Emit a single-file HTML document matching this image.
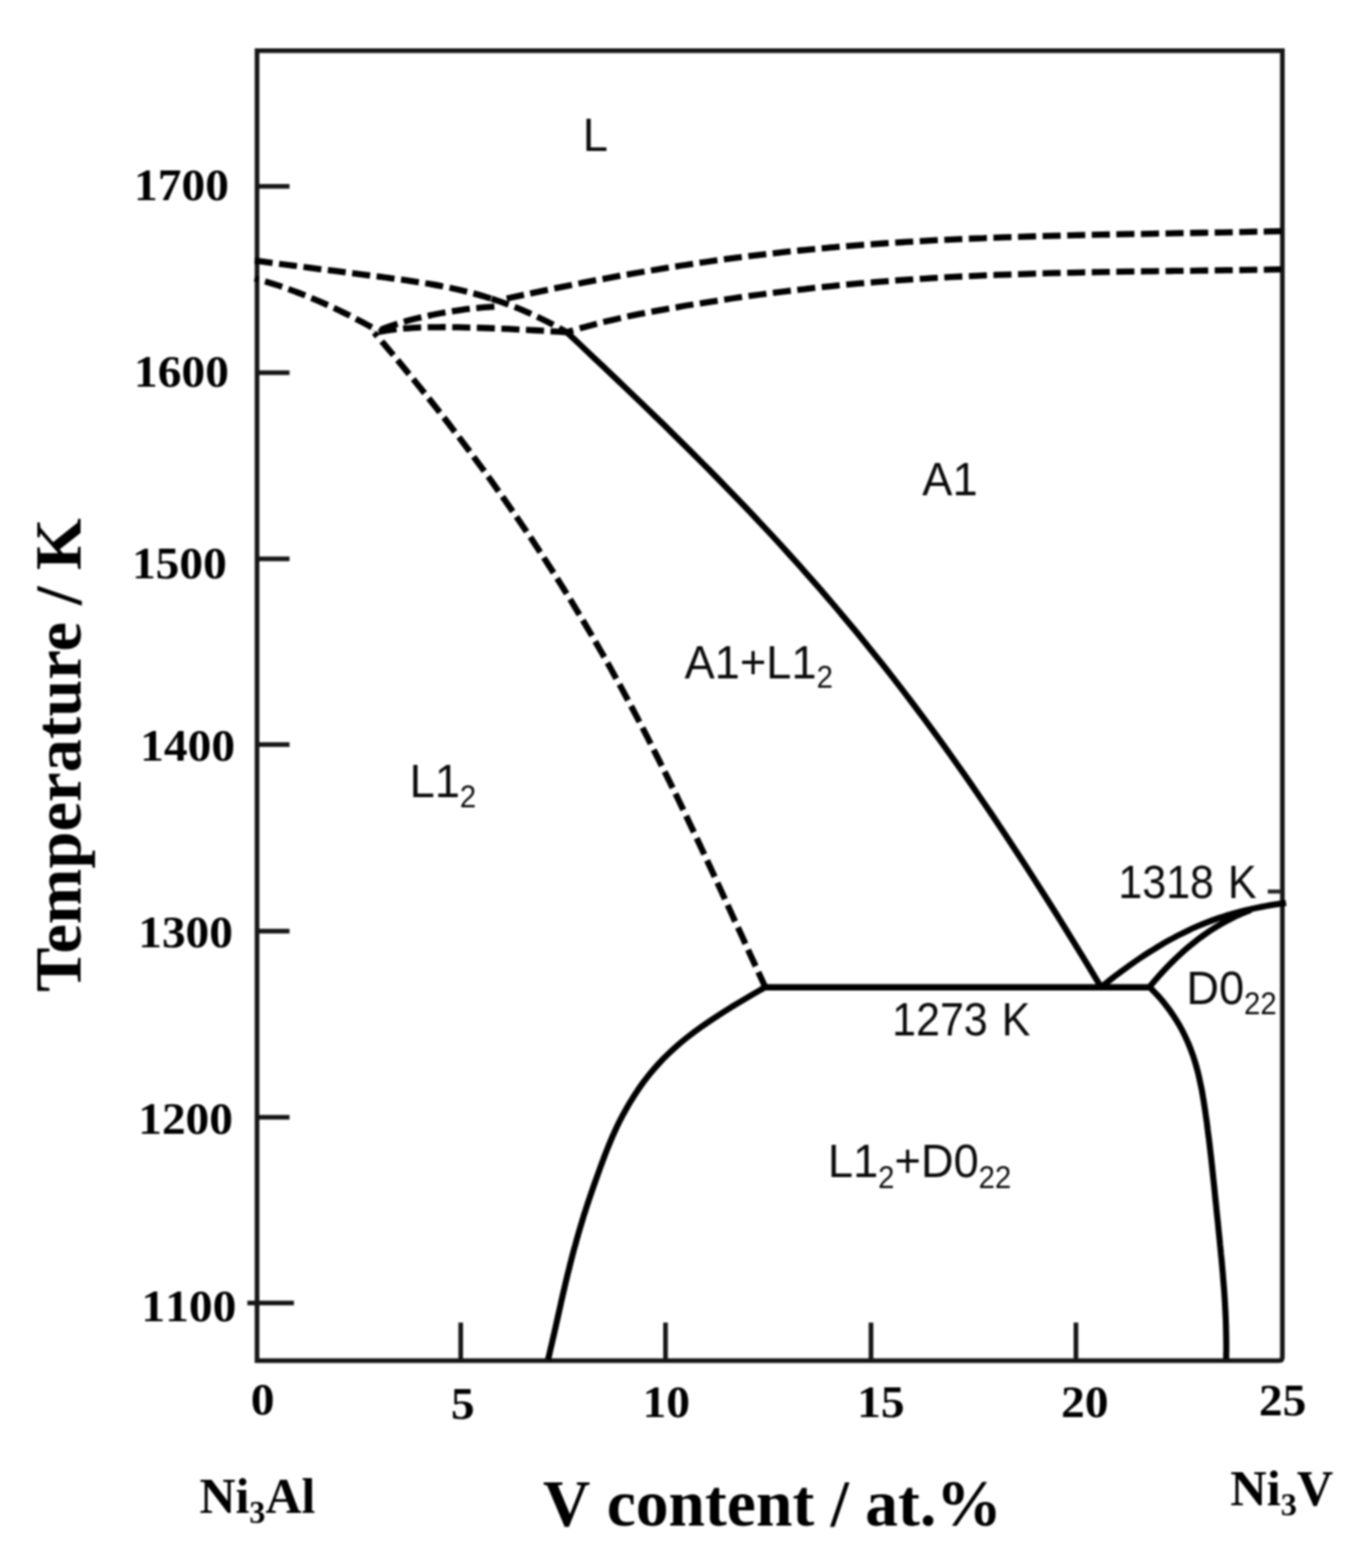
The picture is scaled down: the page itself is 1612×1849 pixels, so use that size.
<!DOCTYPE html>
<html lang="en">
<head>
<meta charset="utf-8">
<title>Ni3Al-Ni3V pseudo-binary phase diagram</title>
<style>
html,body{margin:0;padding:0;background:#fff;}
body{width:1612px;height:1849px;overflow:hidden;}
svg{display:block;filter:blur(1.1px);}
</style>
</head>
<body>
<svg width="1612" height="1849" viewBox="0 0 1612 1849">
<rect width="1612" height="1849" fill="#fff"/>
<g fill="none" stroke="#161616" stroke-width="5.5">
<path d="M303.1,59.8 L1512.2,59.8 L1512.2,1600.5 Q1512.2,1604.5 1508.2,1604.5 L303.1,1604.5 Z" stroke-linejoin="miter"/>
<path d="M301.0,219.7 L341.4,219.7"/>
<path d="M301.0,439.6 L341.4,439.6"/>
<path d="M301.0,658.9 L341.4,658.9"/>
<path d="M301.0,878.0 L341.4,878.0"/>
<path d="M301.0,1098.1 L341.4,1098.1"/>
<path d="M301.0,1317.4 L341.4,1317.4"/>
<path d="M291.7,1536.4 L346.6,1536.4"/>
<path d="M543.3,1559.6 L543.3,1604.5"/>
<path d="M784.8,1559.6 L784.8,1604.5"/>
<path d="M1027.1,1559.6 L1027.1,1604.5"/>
<path d="M1268.8,1559.6 L1268.8,1604.5"/>
</g>
<path d="M1495.0,1051.3 L1511,1051.3" stroke="#262626" stroke-width="4.8" fill="none"/>
<g fill="none" stroke="#000" stroke-width="7.3" stroke-dasharray="21.3 7.7">
<path d="M300.3,307.3C303.0,307.6 311.0,308.7 316.3,309.4C321.6,310.1 327.0,310.8 332.3,311.5C337.7,312.2 343.0,312.8 348.3,313.5C353.7,314.2 359.0,314.9 364.3,315.6C369.7,316.3 375.0,317.0 380.3,317.7C385.7,318.3 391.0,319.0 396.4,319.7C401.7,320.4 407.0,321.1 412.4,321.8C417.7,322.5 423.0,323.2 428.4,323.9C433.7,324.6 439.0,325.3 444.4,325.9C449.7,326.6 455.1,327.3 460.4,328.1C465.7,328.8 471.1,329.5 476.4,330.2C481.7,331.0 487.1,331.8 492.4,332.6C497.7,333.4 503.1,334.2 508.4,335.2C513.7,336.1 519.1,337.1 524.4,338.1C529.8,339.2 535.1,340.3 540.4,341.5C545.8,342.7 551.1,344.0 556.4,345.4C561.8,346.8 568.6,348.8 572.4,349.9C576.3,351.1 578.4,351.9 579.6,352.2" stroke-dashoffset="0.0"/>
<path d="M579.6,352.2C581.1,352.7 584.3,353.7 588.5,355.1C592.6,356.6 599.1,358.9 604.5,361.0C609.8,363.1 615.1,365.3 620.5,367.6C625.8,370.0 631.1,372.4 636.5,375.0C641.8,377.5 647.2,380.2 652.5,383.0C657.8,385.8 665.8,390.4 668.5,391.8" stroke-dashoffset="0.0"/>
<path d="M300.3,328.3C302.4,328.9 308.8,330.7 313.0,331.9C317.3,333.2 321.5,334.5 325.7,335.9C330.0,337.3 334.2,338.8 338.5,340.3C342.7,341.8 346.9,343.3 351.2,345.0C355.4,346.6 359.7,348.3 363.9,350.0C368.1,351.7 372.4,353.5 376.6,355.4C380.8,357.2 385.1,359.1 389.3,361.1C393.6,363.0 397.8,365.0 402.0,367.1C406.3,369.1 410.5,371.2 414.8,373.4C419.0,375.6 423.2,377.8 427.5,380.0C431.7,382.3 438.1,385.8 440.2,387.0" stroke-dashoffset="16.3"/>
<path d="M441.5,392.3C443.7,391.4 450.1,388.4 454.4,386.7C458.7,385.1 463.0,383.6 467.3,382.2C471.6,380.8 475.9,379.5 480.3,378.3C484.6,377.1 488.9,376.0 493.2,375.0C497.5,374.0 501.8,373.0 506.1,372.1C510.4,371.2 514.7,370.3 519.0,369.5C523.3,368.7 527.6,368.0 531.9,367.3C536.2,366.6 540.5,365.9 544.8,365.3C549.2,364.7 553.5,364.2 557.8,363.7C562.1,363.2 566.4,362.8 570.7,362.4C575.0,362.1 581.4,361.7 583.6,361.5" stroke-dashoffset="20.9"/>
<path d="M1511.0,272.6C1507.1,272.7 1495.4,273.0 1487.6,273.1C1479.8,273.3 1472.0,273.5 1464.2,273.6C1456.3,273.8 1448.5,273.9 1440.7,274.1C1432.9,274.2 1425.1,274.4 1417.3,274.5C1409.5,274.7 1401.7,274.8 1393.9,274.9C1386.1,275.1 1378.3,275.2 1370.5,275.4C1362.7,275.5 1354.8,275.6 1347.0,275.8C1339.2,275.9 1331.4,276.1 1323.6,276.2C1315.8,276.4 1308.0,276.5 1300.2,276.7C1292.4,276.9 1284.6,277.0 1276.8,277.2C1269.0,277.4 1261.2,277.6 1253.3,277.8C1245.5,278.0 1237.7,278.2 1229.9,278.4C1222.1,278.6 1214.3,278.9 1206.5,279.1C1198.7,279.4 1190.9,279.6 1183.1,279.9C1175.3,280.2 1167.5,280.5 1159.7,280.8C1151.8,281.1 1144.0,281.4 1136.2,281.8C1128.4,282.1 1120.6,282.5 1112.8,282.9C1105.0,283.2 1097.2,283.7 1089.4,284.1C1081.6,284.5 1073.8,285.0 1066.0,285.5C1058.2,285.9 1050.3,286.4 1042.5,287.0C1034.7,287.5 1026.9,288.1 1019.1,288.7C1011.3,289.3 1003.5,289.9 995.7,290.5C987.9,291.2 980.1,291.8 972.3,292.6C964.5,293.3 956.7,294.0 948.8,294.8C941.0,295.6 933.2,296.4 925.4,297.2C917.6,298.1 909.8,298.9 902.0,299.9C894.2,300.8 886.4,301.7 878.6,302.7C870.8,303.7 863.0,304.7 855.2,305.7C847.3,306.8 839.5,307.9 831.7,309.0C823.9,310.1 816.1,311.3 808.3,312.5C800.5,313.6 792.7,314.9 784.9,316.1C777.1,317.4 769.3,318.7 761.5,320.0C753.7,321.3 745.8,322.7 738.0,324.0C730.2,325.4 722.4,326.8 714.6,328.3C706.8,329.7 699.0,331.2 691.2,332.7C683.4,334.2 675.6,335.8 667.8,337.3C660.0,338.9 652.2,340.5 644.3,342.1C636.5,343.7 628.7,345.3 620.9,347.0C613.1,348.6 601.4,351.2 597.5,352.0" stroke-dashoffset="0.7"/>
<path d="M441.5,392.3C444.0,391.8 451.6,390.4 456.6,389.6C461.7,388.9 466.7,388.3 471.8,387.8C476.8,387.3 481.9,386.9 486.9,386.6C491.9,386.3 497.0,386.1 502.0,386.0C507.1,385.8 512.1,385.8 517.2,385.8C522.2,385.7 527.3,385.8 532.3,385.8C537.3,385.9 542.4,386.0 547.4,386.1C552.5,386.2 557.5,386.4 562.6,386.5C567.6,386.7 572.7,386.8 577.7,387.0C582.7,387.2 587.8,387.4 592.8,387.6C597.9,387.8 602.9,388.1 608.0,388.3C613.0,388.6 618.1,388.8 623.1,389.1C628.1,389.4 633.2,389.6 638.2,389.9C643.3,390.2 648.3,390.5 653.4,390.8C658.4,391.1 666.0,391.6 668.5,391.8" stroke-dashoffset="23.8"/>
<path d="M1511.0,317.7C1507.4,317.8 1496.6,317.9 1489.4,318.1C1482.2,318.2 1475.0,318.3 1467.8,318.4C1460.6,318.5 1453.4,318.6 1446.2,318.7C1439.0,318.8 1431.8,318.9 1424.6,319.0C1417.4,319.1 1410.2,319.2 1403.0,319.3C1395.8,319.3 1388.6,319.4 1381.4,319.5C1374.2,319.6 1367.0,319.7 1359.8,319.8C1352.6,319.9 1345.4,320.0 1338.2,320.1C1331.0,320.3 1323.8,320.4 1316.6,320.5C1309.4,320.6 1302.2,320.7 1295.0,320.9C1287.8,321.0 1280.6,321.2 1273.4,321.3C1266.2,321.5 1259.0,321.6 1251.8,321.8C1244.6,322.0 1237.4,322.2 1230.2,322.4C1223.0,322.6 1215.8,322.8 1208.6,323.1C1201.4,323.3 1194.2,323.5 1187.0,323.8C1179.8,324.1 1172.6,324.3 1165.4,324.6C1158.2,325.0 1151.0,325.3 1143.8,325.6C1136.6,325.9 1129.4,326.3 1122.2,326.7C1115.0,327.1 1107.8,327.5 1100.6,327.9C1093.4,328.3 1086.1,328.8 1078.9,329.2C1071.7,329.7 1064.5,330.2 1057.3,330.7C1050.1,331.3 1042.9,331.8 1035.7,332.4C1028.5,333.0 1021.3,333.6 1014.1,334.2C1006.9,334.9 999.7,335.5 992.5,336.2C985.3,336.9 978.1,337.7 970.9,338.4C963.7,339.2 956.5,340.0 949.3,340.8C942.1,341.6 934.9,342.5 927.7,343.3C920.5,344.2 913.3,345.1 906.1,346.1C898.9,347.0 891.7,348.0 884.5,348.9C877.3,349.9 870.1,351.0 862.9,352.0C855.7,353.1 848.5,354.2 841.3,355.3C834.1,356.4 826.9,357.5 819.7,358.7C812.5,359.8 805.3,361.0 798.1,362.3C790.9,363.5 783.7,364.7 776.5,366.1C769.3,367.4 762.1,368.7 754.9,370.2C747.7,371.6 740.5,373.1 733.3,374.7C726.1,376.3 718.9,377.9 711.7,379.7C704.5,381.5 697.3,383.4 690.1,385.4C682.9,387.4 672.1,390.7 668.5,391.8" stroke-dashoffset="0.7"/>
<path d="M441.4,392.3C444.2,395.6 452.7,405.5 458.3,412.1C463.9,418.7 469.4,425.3 474.8,431.9C480.3,438.5 485.7,445.1 491.1,451.7C496.4,458.3 501.7,464.9 506.9,471.4C512.2,478.0 517.4,484.6 522.5,491.2C527.7,497.8 532.7,504.4 537.8,511.0C542.8,517.6 547.8,524.2 552.7,530.8C557.6,537.4 562.5,544.0 567.4,550.6C572.2,557.2 577.0,563.8 581.7,570.4C586.4,577.0 591.1,583.6 595.7,590.2C600.3,596.8 604.9,603.4 609.4,610.0C614.0,616.6 618.4,623.2 622.9,629.7C627.3,636.3 631.7,642.9 636.0,649.5C640.3,656.1 644.6,662.7 648.8,669.3C653.1,675.9 657.2,682.5 661.4,689.1C665.5,695.7 669.6,702.3 673.7,708.9C677.7,715.5 681.7,722.1 685.6,728.7C689.6,735.3 693.5,741.9 697.4,748.5C701.2,755.1 705.0,761.7 708.8,768.3C712.6,774.9 716.3,781.4 720.0,788.0C723.6,794.6 727.3,801.2 730.9,807.8C734.5,814.4 738.0,821.0 741.6,827.6C745.1,834.2 748.6,840.8 752.0,847.4C755.5,854.0 758.9,860.6 762.3,867.2C765.7,873.8 769.0,880.4 772.3,887.0C775.7,893.6 779.0,900.2 782.2,906.8C785.5,913.4 788.7,920.0 792.0,926.6C795.2,933.1 798.4,939.7 801.6,946.3C804.7,952.9 807.9,959.5 811.0,966.1C814.2,972.7 817.3,979.3 820.4,985.9C823.5,992.5 826.6,999.1 829.7,1005.7C832.7,1012.3 835.8,1018.9 838.9,1025.5C841.9,1032.1 845.0,1038.7 848.0,1045.3C851.0,1051.9 854.1,1058.5 857.1,1065.1C860.1,1071.7 863.1,1078.3 866.1,1084.9C869.2,1091.4 872.2,1098.0 875.2,1104.6C878.2,1111.2 881.2,1117.8 884.2,1124.4C887.3,1131.0 890.3,1137.6 893.3,1144.2C896.4,1150.8 900.9,1160.7 902.4,1164.0" stroke-dashoffset="15.6"/>
</g>
<g fill="none" stroke="#000" stroke-width="7.2" stroke-linecap="butt" stroke-linejoin="round">
<path d="M901.2,1164.2 L1356.1,1164.2" stroke-width="7.4"/>
<path d="M668.5,391.8C671.2,394.3 679.3,401.9 684.7,407.0C690.0,412.1 695.4,417.2 700.8,422.3C706.2,427.4 711.6,432.5 717.0,437.6C722.3,442.7 727.7,447.9 733.1,453.0C738.5,458.1 743.9,463.3 749.3,468.5C754.6,473.6 760.0,478.8 765.4,484.0C770.8,489.2 776.2,494.5 781.6,499.7C786.9,505.0 792.3,510.3 797.7,515.6C803.1,520.9 808.5,526.2 813.9,531.6C819.2,536.9 824.6,542.3 830.0,547.7C835.4,553.2 840.8,558.6 846.2,564.1C851.5,569.6 856.9,575.1 862.3,580.7C867.7,586.2 873.1,591.8 878.5,597.5C883.9,603.1 889.2,608.8 894.6,614.6C900.0,620.3 905.4,626.1 910.8,631.9C916.2,637.7 921.5,643.6 926.9,649.5C932.3,655.4 937.7,661.4 943.1,667.4C948.5,673.5 953.8,679.6 959.2,685.7C964.6,691.8 970.0,698.0 975.4,704.3C980.8,710.6 986.1,716.9 991.5,723.3C996.9,729.7 1002.3,736.1 1007.7,742.6C1013.1,749.1 1018.4,755.7 1023.8,762.4C1029.2,769.0 1034.6,775.7 1040.0,782.5C1045.4,789.3 1050.7,796.2 1056.1,803.1C1061.5,810.0 1066.9,817.1 1072.3,824.2C1077.7,831.2 1083.0,838.4 1088.4,845.7C1093.8,852.9 1099.2,860.2 1104.6,867.6C1110.0,875.0 1115.4,882.5 1120.7,890.0C1126.1,897.6 1131.5,905.2 1136.9,912.9C1142.3,920.6 1147.7,928.4 1153.0,936.2C1158.4,944.0 1163.8,952.0 1169.2,959.9C1174.6,967.9 1180.0,976.0 1185.3,984.1C1190.7,992.2 1196.1,1000.4 1201.5,1008.7C1206.9,1016.9 1212.3,1025.3 1217.6,1033.6C1223.0,1042.0 1228.4,1050.5 1233.8,1059.0C1239.2,1067.5 1244.6,1076.1 1249.9,1084.7C1255.3,1093.4 1260.7,1102.1 1266.1,1110.8C1271.5,1119.6 1276.9,1128.4 1282.2,1137.2C1287.6,1146.1 1295.7,1159.5 1298.4,1164.0"/>
<path d="M902.2,1164.2C899.0,1166.1 889.1,1171.7 882.8,1175.5C876.4,1179.2 870.1,1183.0 864.0,1186.7C857.9,1190.5 851.9,1194.2 846.2,1198.0C840.4,1201.7 834.8,1205.5 829.4,1209.2C824.1,1213.0 818.9,1216.7 814.0,1220.5C809.1,1224.2 804.5,1228.0 800.1,1231.7C795.7,1235.5 791.7,1239.2 787.8,1243.0C783.9,1246.7 780.2,1250.5 776.8,1254.2C773.3,1258.0 770.1,1261.7 767.0,1265.5C764.0,1269.2 761.1,1273.0 758.3,1276.7C755.6,1280.5 753.0,1284.2 750.5,1288.0C748.0,1291.7 745.7,1295.5 743.4,1299.2C741.1,1303.0 739.0,1306.7 736.9,1310.5C734.8,1314.2 732.8,1318.0 730.9,1321.7C729.0,1325.5 727.2,1329.2 725.5,1333.0C723.8,1336.7 722.1,1340.5 720.5,1344.2C718.9,1348.0 717.4,1351.7 715.9,1355.5C714.4,1359.2 713.0,1363.0 711.6,1366.7C710.2,1370.5 708.8,1374.2 707.4,1378.0C706.1,1381.7 704.7,1385.5 703.4,1389.2C702.0,1393.0 700.7,1396.7 699.4,1400.5C698.1,1404.2 696.8,1408.0 695.6,1411.7C694.3,1415.5 693.0,1419.2 691.8,1423.0C690.6,1426.7 689.4,1430.5 688.2,1434.2C687.1,1438.0 685.9,1441.7 684.8,1445.5C683.7,1449.2 682.6,1453.0 681.5,1456.7C680.4,1460.5 679.4,1464.2 678.4,1468.0C677.3,1471.7 676.3,1475.5 675.3,1479.2C674.3,1483.0 673.4,1486.7 672.4,1490.5C671.5,1494.2 670.6,1498.0 669.6,1501.7C668.7,1505.5 667.8,1509.2 666.9,1513.0C666.0,1516.7 665.2,1520.5 664.3,1524.2C663.4,1528.0 662.6,1531.7 661.7,1535.5C660.9,1539.2 660.1,1543.0 659.2,1546.7C658.4,1550.5 657.5,1554.2 656.7,1558.0C655.9,1561.7 655.0,1565.5 654.2,1569.2C653.3,1573.0 652.5,1576.7 651.6,1580.5C650.8,1584.2 649.9,1588.0 649.0,1591.7C648.2,1595.5 646.8,1601.1 646.3,1603.0"/>
<path d="M1298.4,1164.0C1300.3,1162.5 1306.1,1157.9 1309.9,1154.9C1313.7,1152.0 1317.5,1149.1 1321.4,1146.2C1325.2,1143.4 1329.0,1140.6 1332.8,1137.9C1336.7,1135.1 1340.5,1132.5 1344.3,1129.9C1348.1,1127.3 1352.0,1124.8 1355.8,1122.4C1359.6,1120.0 1363.4,1117.6 1367.3,1115.3C1371.1,1113.0 1374.9,1110.8 1378.8,1108.7C1382.6,1106.6 1386.4,1104.5 1390.2,1102.6C1394.1,1100.6 1397.9,1098.7 1401.7,1096.9C1405.5,1095.1 1409.4,1093.4 1413.2,1091.8C1417.0,1090.2 1420.8,1088.7 1424.7,1087.2C1428.5,1085.7 1432.3,1084.3 1436.1,1083.0C1440.0,1081.7 1443.8,1080.5 1447.6,1079.3C1451.5,1078.1 1455.3,1077.0 1459.1,1076.0C1462.9,1075.0 1466.8,1074.0 1470.6,1073.1C1474.4,1072.2 1478.2,1071.3 1482.1,1070.5C1485.9,1069.8 1489.7,1069.0 1493.5,1068.3C1497.4,1067.6 1501.2,1067.0 1505.0,1066.4C1508.8,1065.8 1514.6,1065.1 1516.5,1064.8"/>
<path d="M1355.4,1164.0C1356.9,1162.2 1361.5,1156.6 1364.6,1153.1C1367.7,1149.6 1370.7,1146.3 1373.8,1143.0C1376.9,1139.7 1379.9,1136.6 1383.0,1133.6C1386.1,1130.5 1389.1,1127.6 1392.2,1124.8C1395.3,1122.0 1398.3,1119.4 1401.4,1116.8C1404.5,1114.2 1407.5,1111.7 1410.6,1109.3C1413.7,1107.0 1416.7,1104.7 1419.8,1102.5C1422.9,1100.4 1425.9,1098.3 1429.0,1096.3C1432.1,1094.3 1435.1,1092.4 1438.2,1090.6C1441.3,1088.8 1444.3,1087.1 1447.4,1085.5C1450.5,1083.9 1453.5,1082.3 1456.6,1080.8C1459.7,1079.4 1462.7,1078.0 1465.8,1076.7C1468.9,1075.4 1473.5,1073.6 1475.0,1073.0"/>
<path d="M1355.6,1164.0C1357.4,1165.9 1363.0,1171.5 1366.4,1175.2C1369.7,1179.0 1372.8,1182.7 1375.7,1186.5C1378.6,1190.2 1381.3,1194.0 1383.8,1197.7C1386.3,1201.5 1388.6,1205.2 1390.8,1209.0C1392.9,1212.7 1394.9,1216.5 1396.7,1220.2C1398.5,1224.0 1400.2,1227.7 1401.8,1231.5C1403.3,1235.2 1404.7,1239.0 1406.1,1242.7C1407.4,1246.5 1408.6,1250.2 1409.7,1253.9C1410.8,1257.7 1411.8,1261.4 1412.8,1265.2C1413.7,1268.9 1414.5,1272.7 1415.3,1276.4C1416.1,1280.2 1416.9,1283.9 1417.6,1287.7C1418.2,1291.4 1418.9,1295.2 1419.5,1298.9C1420.1,1302.7 1420.6,1306.4 1421.2,1310.2C1421.7,1313.9 1422.2,1317.7 1422.8,1321.4C1423.3,1325.2 1423.8,1328.9 1424.2,1332.7C1424.7,1336.4 1425.2,1340.1 1425.7,1343.9C1426.1,1347.6 1426.6,1351.4 1427.0,1355.1C1427.4,1358.9 1427.9,1362.6 1428.3,1366.4C1428.7,1370.1 1429.1,1373.9 1429.5,1377.6C1429.9,1381.4 1430.3,1385.1 1430.7,1388.9C1431.1,1392.6 1431.5,1396.4 1431.9,1400.1C1432.3,1403.9 1432.6,1407.6 1433.0,1411.4C1433.4,1415.1 1433.8,1418.9 1434.2,1422.6C1434.5,1426.4 1434.9,1430.1 1435.3,1433.8C1435.7,1437.6 1436.1,1441.3 1436.5,1445.1C1436.8,1448.8 1437.2,1452.6 1437.6,1456.3C1438.0,1460.1 1438.4,1463.8 1438.7,1467.6C1439.1,1471.3 1439.5,1475.1 1439.8,1478.8C1440.2,1482.6 1440.6,1486.3 1440.9,1490.1C1441.2,1493.8 1441.6,1497.6 1441.9,1501.3C1442.2,1505.1 1442.5,1508.8 1442.8,1512.6C1443.1,1516.3 1443.4,1520.0 1443.7,1523.8C1443.9,1527.5 1444.2,1531.3 1444.4,1535.0C1444.6,1538.8 1444.8,1542.5 1445.0,1546.3C1445.2,1550.0 1445.4,1553.8 1445.5,1557.5C1445.6,1561.3 1445.8,1565.0 1445.8,1568.8C1445.9,1572.5 1446.0,1576.3 1446.0,1580.0C1446.1,1583.8 1446.1,1587.5 1446.1,1591.3C1446.0,1595.0 1445.9,1600.6 1445.9,1602.5"/>
</g>
<g font-family="'Liberation Serif', 'Times New Roman', serif" font-weight="bold" fill="#000" style="font-kerning:none">
<text transform="translate(158.03,236.00) scale(1.0650,1)" font-size="52.50">1700</text>
<text transform="translate(158.03,456.00) scale(1.0650,1)" font-size="52.50">1600</text>
<text transform="translate(155.63,681.70) scale(1.0650,1)" font-size="52.50">1500</text>
<text transform="translate(165.33,897.00) scale(1.0650,1)" font-size="52.50">1400</text>
<text transform="translate(162.93,1117.20) scale(1.0650,1)" font-size="52.50">1300</text>
<text transform="translate(162.93,1337.00) scale(1.0650,1)" font-size="52.50">1200</text>
<text transform="translate(166.83,1557.50) scale(1.0650,1)" font-size="52.50">1100</text>
<text transform="translate(295.78,1668.00) scale(1.0650,1)" font-size="52.50">0</text>
<text transform="translate(531.66,1673.20) scale(1.0650,1)" font-size="52.50">5</text>
<text transform="translate(757.73,1670.80) scale(1.0650,1)" font-size="52.50">10</text>
<text transform="translate(1010.83,1670.80) scale(1.0650,1)" font-size="52.50">15</text>
<text transform="translate(1251.25,1670.80) scale(1.0650,1)" font-size="52.50">20</text>
<text transform="translate(1484.45,1668.60) scale(1.0650,1)" font-size="52.50">25</text>
<text transform="translate(640.25,1798.80)" font-size="77.30">V content / at.%</text>
<text style="font-kerning:normal" transform="translate(94.80,1169.83) rotate(-90)" font-size="78.60">Temperature / K</text>
<text transform="translate(235.18,1784.30) scale(0.9850,1)" font-size="59.70">Ni<tspan font-size="38.5" dy="11.7">3</tspan><tspan dy="-11.7">Al</tspan></text>
<text transform="translate(1450.77,1775.00) scale(0.9950,1)" font-size="59.70">Ni<tspan font-size="38.5" dy="11.7">3</tspan><tspan dy="-11.7">V</tspan></text>
</g>
<g font-family="'Liberation Sans', Arial, sans-serif" fill="#0a0a0a" style="font-kerning:none">
<text transform="translate(687.13,177.90) scale(0.9520,1)" font-size="56.00">L</text>
<text transform="translate(1087.59,583.80) scale(0.9520,1)" font-size="56.00">A1</text>
<text transform="translate(807.29,800.00) scale(0.9520,1)" font-size="56.00">A1+L1<tspan font-size="36.3" dy="11.3">2</tspan></text>
<text transform="translate(483.03,940.20) scale(0.9520,1)" font-size="56.00">L1<tspan font-size="36.3" dy="12.0">2</tspan></text>
<text word-spacing="2.7" transform="translate(1318.78,1059.00) scale(0.9050,1)" font-size="56.00">1318 K</text>
<text word-spacing="2.7" transform="translate(1052.08,1221.20) scale(0.9050,1)" font-size="56.00">1273 K</text>
<text transform="translate(1398.93,1184.00) scale(0.9520,1)" font-size="56.00">D0<tspan font-size="36.3" dy="11.8">22</tspan></text>
<text transform="translate(976.33,1387.80) scale(0.9520,1)" font-size="56.00">L1<tspan font-size="36.3" dy="13.0">2</tspan><tspan dy="-13.0">+D0</tspan><tspan font-size="36.3" dy="13.0">22</tspan></text>
</g>
</svg>
</body>
</html>
